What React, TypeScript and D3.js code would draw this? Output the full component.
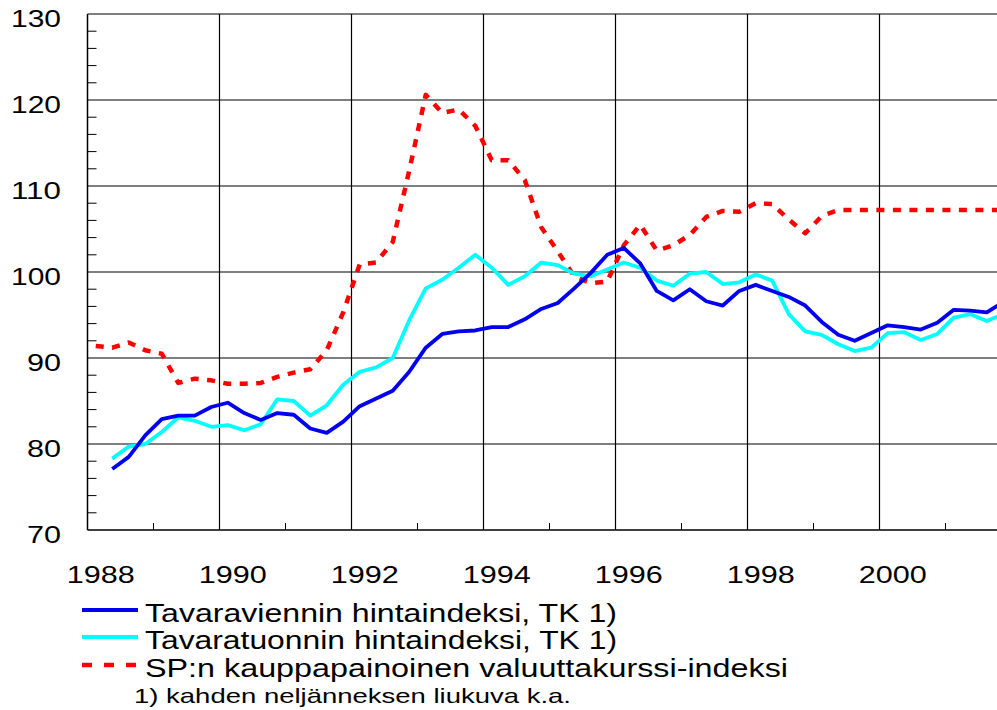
import React, { useEffect, useRef } from "react";
import * as d3 from "d3";

// Quarterly series, two-quarter moving average, first point 1988 Q2
const exportStart = 1988.25;
const exportIndex = [
  77.1, 78.5, 81.0,
  82.9, 83.3, 83.3, 84.3,
  84.8, 83.6, 82.8, 83.6,
  83.4, 81.8, 81.3, 82.6,
  84.4, 85.3, 86.2, 88.4,
  91.2, 92.8, 93.1, 93.2,
  93.6, 93.6, 94.5, 95.7,
  96.4, 98.1, 99.9, 102.0,
  102.8, 101.0, 97.8, 96.7,
  98.0, 96.6, 96.1, 97.8,
  98.5, 97.8, 97.1, 96.1,
  94.2, 92.7, 92.0, 92.9,
  93.8, 93.6, 93.3, 94.1,
  95.6, 95.5, 95.3, 96.5,
];

const importStart = 1988.25;
const importIndex = [
  78.3, 79.7, 80.0,
  81.4, 83.1, 82.7, 82.0,
  82.2, 81.6, 82.3, 85.2,
  85.0, 83.3, 84.5, 86.9,
  88.4, 88.9, 90.0, 94.4,
  98.1, 99.1, 100.5, 102.0,
  100.5, 98.5, 99.5, 101.1,
  100.8, 99.8, 99.5, 100.3,
  101.1, 100.5, 99.0, 98.4,
  99.8, 100.0, 98.6, 98.8,
  99.7, 99.0, 95.1, 93.1,
  92.7, 91.6, 90.8, 91.2,
  92.9, 93.0, 92.1, 92.8,
  94.7, 95.1, 94.3, 95.1,
];

// Bank of Finland trade-weighted currency index, first point 1988 Q1
const currencyStart = 1988.0;
const currencyIndex = [
  91.4, 91.2, 91.8, 90.9,
  90.5, 87.1, 87.6, 87.4,
  87.0, 87.0, 87.1, 87.8,
  88.3, 88.7, 90.9, 95.3,
  100.9, 101.1, 103.5, 111.8,
  120.6, 118.5, 118.9, 117.0,
  113.0, 113.0, 110.7, 105.2,
  102.4, 99.5, 98.7, 98.9,
  103.1, 105.5, 102.5, 103.1,
  104.3, 106.4, 107.1, 107.0,
  108.0, 107.9, 106.1, 104.5,
  106.5, 107.2, 107.2, 107.2,
  107.2, 107.2, 107.2, 107.2,
  107.2, 107.2, 107.2, 107.2,
];

const yearLabels = [1988, 1990, 1992, 1994, 1996, 1998, 2000];
const gridYears = [1990, 1992, 1994, 1996, 1998, 2000];
const minorYears = [1989, 1991, 1993, 1995, 1997, 1999, 2001];
const yTicks = [70, 80, 90, 100, 110, 120, 130];

const legendLabels = [
  "Tavaraviennin hintaindeksi, TK 1)",
  "Tavaratuonnin hintaindeksi, TK 1)",
  "SP:n kauppapainoinen valuuttakurssi-indeksi",
];
const footnote = "1) kahden neljänneksen liukuva k.a.";

const App = () => {
  const ref = useRef<SVGSVGElement>(null);

  useEffect(() => {
    const width = 997;
    const height = 710;
    const left = 87.5;
    const top = 14;
    const bottom = 530;

    const svg = d3.select(ref.current).attr("width", width).attr("height", height);
    svg.selectAll("*").remove();

    const x = d3.scaleLinear().domain([1988, 2002]).range([left, left + 14 * 66]);
    const y = d3.scaleLinear().domain([70, 130]).range([bottom, top]);

    // the original text is a wide (stretched) Arial
    const font = "'Liberation Sans', Arial, sans-serif";

    // gridlines
    svg.append("g")
      .selectAll("line")
      .data(yTicks.filter(d => d > 70))
      .join("line")
      .attr("x1", left).attr("x2", width)
      .attr("y1", d => y(d)).attr("y2", d => y(d))
      .attr("stroke", "#000").attr("stroke-width", 1.2);

    svg.append("g")
      .selectAll("line")
      .data(gridYears)
      .join("line")
      .attr("x1", d => x(d)).attr("x2", d => x(d))
      .attr("y1", top).attr("y2", bottom)
      .attr("stroke", "#000").attr("stroke-width", 1.2);

    // minor ticks
    svg.append("g")
      .selectAll("line")
      .data(d3.range(72, 130, 2).filter(d => d % 10 !== 0))
      .join("line")
      .attr("x1", left).attr("x2", left + 9)
      .attr("y1", d => y(d)).attr("y2", d => y(d))
      .attr("stroke", "#000").attr("stroke-width", 1);

    svg.append("g")
      .selectAll("line")
      .data(minorYears)
      .join("line")
      .attr("x1", d => x(d)).attr("x2", d => x(d))
      .attr("y1", bottom).attr("y2", bottom - 7)
      .attr("stroke", "#000").attr("stroke-width", 1);

    // axes lines
    svg.append("line")
      .attr("x1", left).attr("x2", left).attr("y1", top).attr("y2", bottom)
      .attr("stroke", "#000").attr("stroke-width", 1.5);
    svg.append("line")
      .attr("x1", left).attr("x2", width).attr("y1", bottom).attr("y2", bottom)
      .attr("stroke", "#000").attr("stroke-width", 1.5);

    // axis labels
    svg.append("g")
      .selectAll("text")
      .data(yTicks)
      .join("text")
      .attr("x", 61)
      .attr("y", d => y(d) + 13)
      .attr("text-anchor", "end")
      .attr("font-family", font)
      .attr("font-size", 24)
      .attr("textLength", d => (d >= 100 ? 50 : 34))
      .attr("lengthAdjust", "spacingAndGlyphs")
      .text(d => d);

    svg.append("g")
      .selectAll("text")
      .data(yearLabels)
      .join("text")
      .attr("x", d => x(d + 0.2))
      .attr("y", 583)
      .attr("text-anchor", "middle")
      .attr("font-family", font)
      .attr("font-size", 23)
      .attr("textLength", 68)
      .attr("lengthAdjust", "spacingAndGlyphs")
      .text(d => d);

    // series
    const series = [
      { values: exportIndex, start: exportStart, color: "#0000ee", width: 3.8, dash: null },
      { values: importIndex, start: importStart, color: "#00ffff", width: 3.8, dash: null },
      { values: currencyIndex, start: currencyStart, color: "#ff0000", width: 4.5, dash: "8,8.5" },
    ];

    const plot = svg.append("g");
    [series[2], series[1], series[0]].forEach(s => {
      const line = d3.line<number>()
        .x((_, i) => x(s.start + i * 0.25 + 0.125))
        .y(d => y(d));
      plot.append("path")
        .datum(s.values)
        .attr("fill", "none")
        .attr("stroke", s.color)
        .attr("stroke-width", s.width)
        .attr("stroke-linejoin", "round")
        .attr("stroke-dasharray", s.dash)
        .attr("d", line);
    });

    // legend
    const legendY = [610, 637, 665];
    const legendLen = [472, 472, 643];
    const lg = svg.append("g");
    series.forEach((s, i) => {
      lg.append("line")
        .attr("x1", 82).attr("x2", 138)
        .attr("y1", legendY[i]).attr("y2", legendY[i])
        .attr("stroke", s.color)
        .attr("stroke-width", s.width)
        .attr("stroke-dasharray", s.dash ? "10,12" : null);
      lg.append("text")
        .attr("x", 145)
        .attr("y", legendY[i] + 11.5)
        .attr("font-family", font)
        .attr("font-size", 25)
        .attr("textLength", legendLen[i])
        .attr("lengthAdjust", "spacingAndGlyphs")
        .text(legendLabels[i]);
    });
    lg.append("text")
      .attr("x", 134)
      .attr("y", 703)
      .attr("font-family", font)
      .attr("font-size", 21)
      .attr("textLength", 437)
      .attr("lengthAdjust", "spacingAndGlyphs")
      .text(footnote);
  }, []);

  return (
    <svg ref={ref} style={{ position: "absolute", left: 0, top: 0, background: "#fff" }}></svg>
  );
};

export default App;
